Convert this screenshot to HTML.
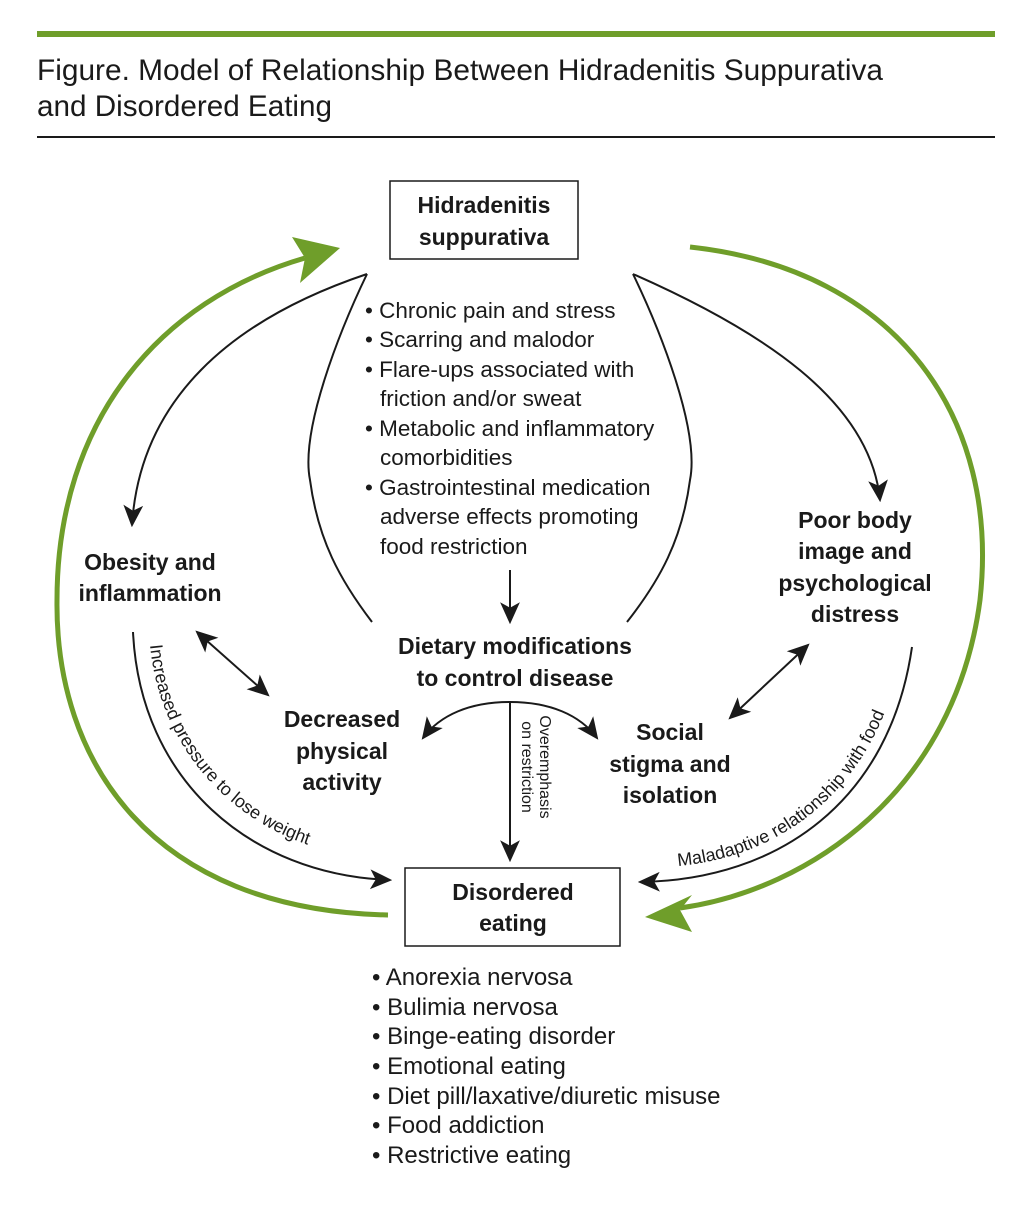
<!DOCTYPE html>
<html><head><meta charset="utf-8"><style>html,body{margin:0;padding:0;background:#fff}</style></head>
<body>
<svg width="1029" height="1200" viewBox="0 0 1029 1200" xmlns="http://www.w3.org/2000/svg" font-family="'Liberation Sans', sans-serif" fill="#1a1a1a">
<defs>
<marker id="ah2" viewBox="0 0 20 20" refX="18" refY="10" markerWidth="22" markerHeight="22" markerUnits="userSpaceOnUse" orient="auto-start-reverse"><path d="M0,1 L20,10 L0,19 L5,10 z" fill="#1a1a1a"/></marker>
</defs>
<rect x="37" y="31" width="958" height="6" fill="#6f9e2a"/>
<text x="37" y="80" font-size="30" textLength="846" lengthAdjust="spacingAndGlyphs">Figure. Model of Relationship Between Hidradenitis Suppurativa</text>
<text x="37" y="116" font-size="30" textLength="295" lengthAdjust="spacingAndGlyphs">and Disordered Eating</text>
<rect x="37" y="136" width="958" height="2" fill="#1a1a1a"/>

<rect x="390" y="181" width="188" height="78" fill="none" stroke="#1a1a1a" stroke-width="1.5"/>
<g font-weight="bold" font-size="23" text-anchor="middle">
<text x="484" y="213">Hidradenitis</text><text x="484" y="245">suppurativa</text>
<text x="150" y="570">Obesity and</text><text x="150" y="601">inflammation</text>
<text x="855" y="528">Poor body</text><text x="855" y="559">image and</text><text x="855" y="591">psychological</text><text x="855" y="622">distress</text>
<text x="515" y="654">Dietary modifications</text><text x="515" y="686">to control disease</text>
<text x="342" y="727">Decreased</text><text x="342" y="759">physical</text><text x="342" y="790">activity</text>
<text x="670" y="740">Social</text><text x="670" y="772">stigma and</text><text x="670" y="803">isolation</text>
<text x="513" y="900">Disordered</text><text x="513" y="931">eating</text>
</g>
<rect x="405" y="868" width="215" height="78" fill="none" stroke="#1a1a1a" stroke-width="1.5"/>

<g font-size="22.5">
<text x="365" y="318">• Chronic pain and stress</text>
<text x="365" y="347">• Scarring and malodor</text>
<text x="365" y="377">• Flare-ups associated with</text>
<text x="380" y="406">friction and/or sweat</text>
<text x="365" y="436">• Metabolic and inflammatory</text>
<text x="380" y="465">comorbidities</text>
<text x="365" y="495">• Gastrointestinal medication</text>
<text x="380" y="524">adverse effects promoting</text>
<text x="380" y="554">food restriction</text>
</g>
<g font-size="24">
<text x="372" y="985">• Anorexia nervosa</text>
<text x="372" y="1015">• Bulimia nervosa</text>
<text x="372" y="1044">• Binge-eating disorder</text>
<text x="372" y="1074">• Emotional eating</text>
<text x="372" y="1104">• Diet pill/laxative/diuretic misuse</text>
<text x="372" y="1133">• Food addiction</text>
<text x="372" y="1163">• Restrictive eating</text>
</g>

<g fill="none" stroke="#1a1a1a" stroke-width="2">
<path d="M367,274 C 340,330 300,430 310,480 C 318,540 340,580 372,622"/>
<path d="M633,274 C 660,330 700,430 690,480 C 682,540 660,580 627,622"/>
<path d="M367,274 C 230,320 140,400 132,525" marker-end="url(#ah2)"/>
<path d="M633,274 C 760,330 870,400 880,500" marker-end="url(#ah2)"/>
<path d="M510,570 L510,622" marker-end="url(#ah2)"/>
<path d="M197,632 L268,695" marker-start="url(#ah2)" marker-end="url(#ah2)"/>
<path d="M808,645 L730,718" marker-start="url(#ah2)" marker-end="url(#ah2)"/>
<path d="M510,702 C 470,702 440,715 423,738" marker-end="url(#ah2)"/>
<path d="M510,702 C 550,702 580,715 597,738" marker-end="url(#ah2)"/>
<path d="M510,702 L510,860" marker-end="url(#ah2)"/>
<path d="M133,632 C 140,780 250,875 390,880" marker-end="url(#ah2)"/>
<path d="M640,882 C 780,880 890,800 912,647" marker-start="url(#ah2)"/>
</g>
<path id="lt" d="M150,645 C 162,770 262,848 362,856" fill="none"/>
<path id="rt" d="M678,866 C 790,856 880,780 902,650" fill="none"/>
<text font-size="18"><textPath href="#lt">Increased pressure to lose weight</textPath></text>
<text font-size="18"><textPath href="#rt">Maladaptive relationship with food</textPath></text>
<g font-size="16" text-anchor="middle">
<text transform="translate(540,767) rotate(90)">Overemphasis</text>
<text transform="translate(522,767) rotate(90)">on restriction</text>
</g>

<g fill="none" stroke="#6f9e2a" stroke-width="5">
<path d="M388,915 C 150,910 55,760 57,600 C 57,420 160,300 305,258"/>
<path d="M690,247 C 900,270 1000,420 980,600 C 955,790 810,890 680,908"/>
</g>
<path d="M340,248 L292,237 L305,258 L300,283 z" fill="#6f9e2a"/>
<path d="M645,917 L692,895 L680,910 L692,932 z" fill="#6f9e2a"/>
</svg>
</body></html>
